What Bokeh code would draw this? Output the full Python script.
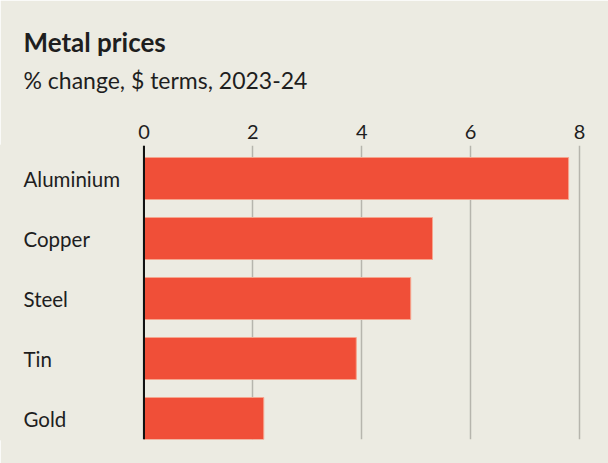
from bokeh.plotting import figure
from bokeh.models import Range1d, FixedTicker, Title, ColumnDataSource, Span
from bokeh.core.properties import value
from bokeh.embed import file_html
from bokeh.resources import INLINE

# Data
metals = ["Aluminium", "Copper", "Steel", "Tin", "Gold"]
changes = [7.8, 5.3, 4.9, 3.9, 2.2]
x_ticks = [0, 2, 4, 6, 8]
title_text = "Metal prices"
subtitle_text = "% change, $ terms, 2023-24"

BG = "#ECEBE2"
BAR = "#F04F38"
TXT = "#1E1E1E"
FONT = "Lato"

ypos = list(range(len(metals)))[::-1]
src = ColumnDataSource(dict(y=ypos, v=changes, name=metals, zero=[0] * len(metals)))

p = figure(width=608, height=463, output_backend="svg", toolbar_location=None,
           x_axis_location="above", y_axis_location=None,
           x_range=Range1d(-2.636, 8.533), y_range=Range1d(-0.35, 4.55),
           min_border_left=0, min_border_right=0, min_border_bottom=24, min_border_top=145)

p.background_fill_color = BG
p.border_fill_color = BG
p.outline_line_color = BG
p.outline_line_width = 2

# grid
p.xgrid.ticker = FixedTicker(ticks=x_ticks)
p.xgrid.grid_line_color = "#B6B5AD"
p.xgrid.grid_line_width = 1.5
p.ygrid.grid_line_color = None

# top axis
ax = p.xaxis[0]
ax.ticker = FixedTicker(ticks=x_ticks)
ax.axis_line_color = None
ax.major_tick_line_color = None
ax.minor_tick_line_color = None
ax.major_label_text_font = FONT
ax.major_label_text_font_size = "20px"
ax.major_label_text_color = TXT
ax.major_label_standoff = 1

# bars
p.hbar(y="y", left="zero", right="v", height=0.7, source=src,
       fill_color=BAR, line_color="#F6A58E", line_width=1)

# zero line
p.add_layout(Span(location=0, dimension="height", line_color="#111111", line_width=2))

# category labels
p.text(x="zero", y="y", text="name", source=src, x_offset=-120.5,
       text_font=value(FONT), text_font_size="20.5px", text_color=TXT,
       text_align="left", text_baseline="middle")

# titles
p.add_layout(Title(text=subtitle_text, text_font=FONT, text_font_size="23px",
                   text_font_style="normal", text_color=TXT, align="left",
                   offset=23, standoff=55), "above")
p.title = Title(text=title_text, text_font=FONT, text_font_size="26px",
                text_font_style="bold", text_color=TXT, align="left",
                offset=23, standoff=-43)

html = file_html(p, INLINE)
html = html.replace("<body>", '<body style="margin:0;background-color:%s">' % BG, 1)
open("out.html", "w").write(html)
